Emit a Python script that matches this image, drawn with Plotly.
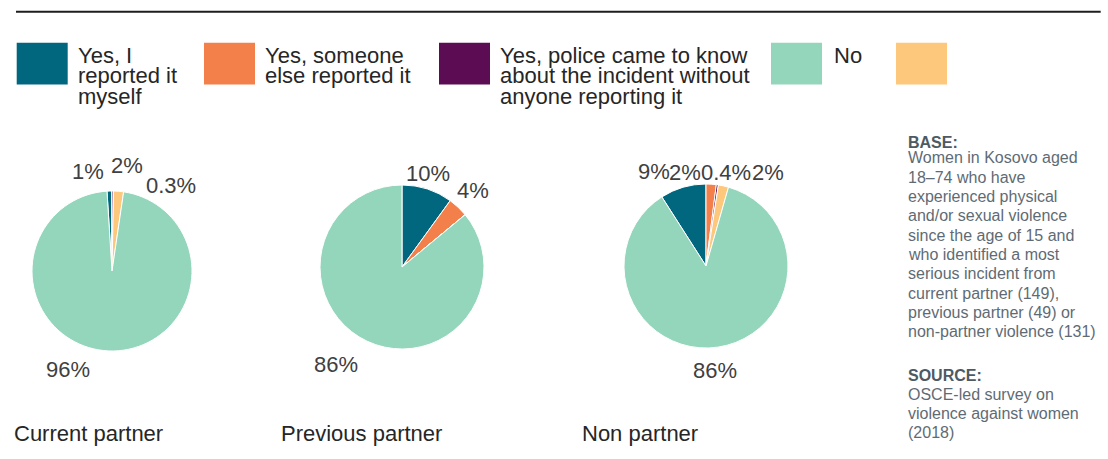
import math
import plotly.graph_objects as go

W, H = 1108, 459
FONT = "Liberation Sans, Arial, sans-serif"

# Reporting categories, in the order the slices run clockwise
categories = [
    "Yes, I reported it myself",
    "Yes, someone else reported it",
    "Yes, police came to know about the incident without anyone reporting it",
    "Other",
    "No",
]
colors = ["#00677f", "#f3804a", "#5c0c53", "#fec87c", "#94d6bb"]

# Share of women (%) per perpetrator group
groups = ["Current partner", "Previous partner", "Non partner"]
current_partner = [1, 0, 0.3, 2, 96]
previous_partner = [10, 4, 0, 0, 86]
non_partner = [9, 2, 0.4, 2, 86]
series = [current_partner, previous_partner, non_partner]

# Legend: order of entries and their wrapped text
legend_order = [0, 1, 2, 4, 3]
legend_lines = [
    ["Yes, I", "reported it", "myself"],
    ["Yes, someone", "else reported it"],
    ["Yes, police came to know", "about the incident without", "anyone reporting it"],
    [],
    ["No"],
]

base_lines = [
    "Women in Kosovo aged",
    "18\u201374 who have",
    "experienced physical",
    "and/or sexual violence",
    "since the age of 15 and",
    "who identified a most",
    "serious incident from",
    "current partner (149),",
    "previous partner (49) or",
    "non-partner violence (131)",
]
source_lines = ["OSCE-led survey on", "violence against women", "(2018)"]

# ---- layout settings (pixels) ----
pie_geom = [(112, 271, 80), (402, 267, 82), (706, 266, 82)]  # centre x, centre y, radius
start_angle = [-3.6, 0, -32.6]  # clockwise degrees from 12 o'clock
# label placement: angular shift from slice middle, and distance from centre
label_shift = [
    [-12.0, 0, 34.0, 3.2, 21.6],
    [-2.4, -0.5, 0, 0, 8.8],
    [-12.8, -16.2, 4.0, 21.0, 3.4],
]
label_dist = [
    [102, 0, 104, 107, 108],
    [96.6, 104.7, 0, 0, 118],
    [107.6, 96.3, 96.0, 112.4, 104.4],
]
group_title_x = [13, 280, 581]
group_title_y = 433

swatch_x = [16.7, 204, 439, 771, 896]
swatch_w, swatch_y0, swatch_y1 = 51, 42.7, 84.5
legend_text_x = [77, 263.5, 498.7, 833, None]
legend_line_y = [55.2, 75.9, 96.6]


def px(x):
    return x / W


def py(y):
    return 1 - y / H


fig = go.Figure()


def add_text(x, y, s, size, color, xanchor="left"):
    fig.add_annotation(
        x=px(x), y=py(y), xref="paper", yref="paper", text=s, showarrow=False,
        xanchor=xanchor, yanchor="middle", borderpad=0,
        font=dict(family=FONT, size=size, color=color),
    )


def fmt(v):
    return f"{v:g}%"


for i, vals in enumerate(series):
    cx, cy, r = pie_geom[i]
    fig.add_trace(go.Pie(
        values=vals,
        labels=categories,
        sort=False,
        direction="clockwise",
        rotation=start_angle[i],
        marker=dict(colors=colors, line=dict(color="white", width=1)),
        textinfo="none",
        hoverinfo="label+percent",
        showlegend=False,
        domain=dict(x=[px(cx - r), px(cx + r)], y=[py(cy + r), py(cy - r)]),
    ))

    # percentage labels around the pie
    total = sum(vals)
    angle = start_angle[i]
    for k, v in enumerate(vals):
        span = 360 * v / total
        mid = angle + span / 2
        angle += span
        if v == 0:
            continue
        a = math.radians(mid + label_shift[i][k])
        d = label_dist[i][k]
        add_text(cx + d * math.sin(a), cy - d * math.cos(a), fmt(v), 22, "#404040", "center")

    add_text(group_title_x[i], group_title_y, groups[i], 22, "#262626")

# top rule
fig.add_shape(type="line", xref="paper", yref="paper",
              x0=px(16), x1=px(1100.7), y0=py(11.8), y1=py(11.8),
              line=dict(color="#1e1e1e", width=2))

# legend swatches and text
for slot, k in enumerate(legend_order):
    x0 = swatch_x[slot]
    fig.add_shape(type="rect", xref="paper", yref="paper",
                  x0=px(x0), x1=px(x0 + swatch_w), y0=py(swatch_y1), y1=py(swatch_y0),
                  fillcolor=colors[k], line=dict(width=0))
    if legend_text_x[slot] is not None:
        for j, line in enumerate(legend_lines[k]):
            add_text(legend_text_x[slot], legend_line_y[j], line, 22, "#262626")

# base and source notes
note_x = 907
add_text(note_x, 142.5, "<b>BASE:</b>", 16, "#4d5a64")
for j, line in enumerate(base_lines):
    add_text(note_x, 158 + 19.3 * j, line, 16, "#5f6b74")
add_text(note_x, 375, "<b>SOURCE:</b>", 16, "#4d5a64")
for j, line in enumerate(source_lines):
    add_text(note_x, 394 + 19.3 * j, line, 16, "#5f6b74")

fig.update_layout(
    width=W, height=H,
    margin=dict(l=0, r=0, t=0, b=0),
    paper_bgcolor="white", plot_bgcolor="white",
    showlegend=False,
)

fig.write_html("out.html")
